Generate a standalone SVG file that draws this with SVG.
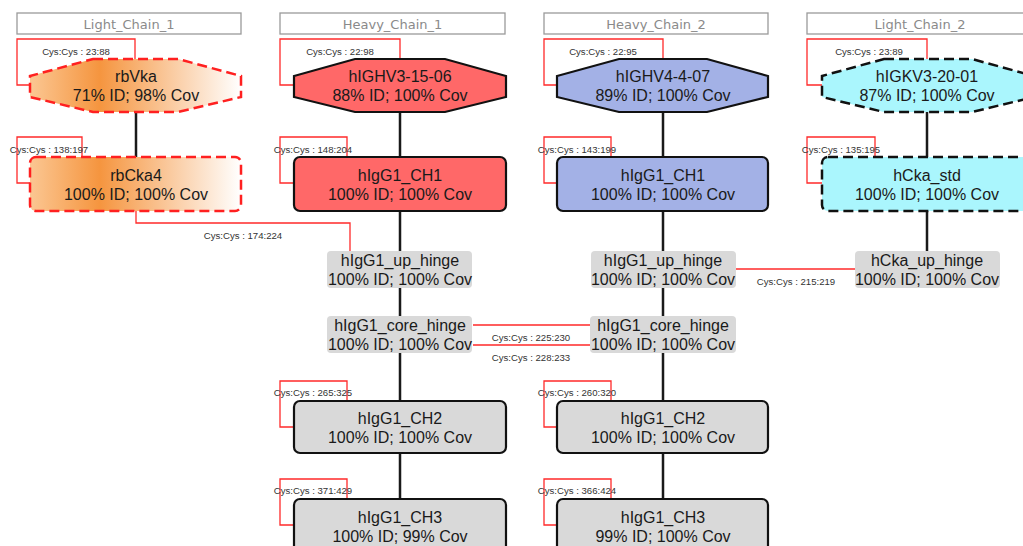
<svg xmlns="http://www.w3.org/2000/svg" width="1023" height="546" viewBox="0 0 1023 546">
<defs>
<linearGradient id="orange" x1="0" y1="0" x2="1" y2="0">
<stop offset="0" stop-color="#fbc793"/>
<stop offset="0.33" stop-color="#f5953f"/>
<stop offset="1" stop-color="#ffffff"/>
</linearGradient>
<style>
.hdr{fill:#fff;stroke:#9a9a9a;stroke-width:1.3}
.hdrt{font-family:"DejaVu Sans",sans-serif;font-size:13px;fill:#8a8a8a;text-anchor:middle}
.t{font-family:"Liberation Sans",Arial,sans-serif;font-size:16px;fill:#1a1a1a;text-anchor:middle}
.c{font-family:"Liberation Sans",Arial,sans-serif;font-size:9.6px;fill:#333;text-anchor:middle}
.lc1{fill:url(#orange);stroke:#ff2020;stroke-width:2.5;stroke-dasharray:10 5}
.hc1{fill:#ff6868;stroke:#111;stroke-width:2.2}
.hc2{fill:#a3b1e6;stroke:#111;stroke-width:2.2}
.lc2{fill:#aaf6fd;stroke:#111;stroke-width:2.5;stroke-dasharray:10 5}
.gr{fill:#d9d9d9;stroke:#111;stroke-width:2.2}
.hg{fill:#d9d9d9;stroke:none}
.bk{stroke:#1a1a1a;stroke-width:2.5;fill:none}
.rd{stroke:#ff2a2a;stroke-width:1.3;fill:none}
</style>
</defs>
<g id="headers">
<rect class="hdr" x="17" y="13" width="224" height="21"/>
<text class="hdrt" x="129" y="29">Light_Chain_1</text>
<rect class="hdr" x="280" y="13" width="225" height="21"/>
<text class="hdrt" x="392.5" y="29">Heavy_Chain_1</text>
<rect class="hdr" x="544" y="13" width="224" height="21"/>
<text class="hdrt" x="656" y="29">Heavy_Chain_2</text>
<rect class="hdr" x="807" y="13" width="226" height="21"/>
<text class="hdrt" x="920" y="29">Light_Chain_2</text>
</g>
<g id="connectors">
<path class="bk" d="M136 112V157"/>
<path class="bk" d="M400 112V157M400 211V251M400 288V316M400 353V401M400 453V499"/>
<path class="bk" d="M663 112V157M663 211V251M663 288V316M663 353V401M663 453V499"/>
<path class="bk" d="M927 112V157M927 211V251"/>
<path class="rd" d="M30 85H17V39H135V59"/>
<path class="rd" d="M30 183H17V137H82V157"/>
<path class="rd" d="M293 85H280V39H400V59"/>
<path class="rd" d="M294 183H280V137H347V157"/>
<path class="rd" d="M557 85H544V39H663V59"/>
<path class="rd" d="M557 183H544V137H611V157"/>
<path class="rd" d="M822 85H807V39H927V59"/>
<path class="rd" d="M822 183H807V137H875V157"/>
<path class="rd" d="M294 427H280V381H347V401"/>
<path class="rd" d="M294 525H280V479H347V499"/>
<path class="rd" d="M557 427H544V381H611V401"/>
<path class="rd" d="M557 525H544V479H611V499"/>
<path class="rd" d="M136 211V223H350V251"/>
<path class="rd" d="M473 325H590M473 345H590"/>
<path class="rd" d="M736 269H855"/>
<text class="c" x="76" y="55">Cys:Cys : 23:88</text>
<text class="c" x="49" y="153">Cys:Cys : 138:197</text>
<text class="c" x="340" y="55">Cys:Cys : 22:98</text>
<text class="c" x="313" y="153">Cys:Cys : 148:204</text>
<text class="c" x="603" y="55">Cys:Cys : 22:95</text>
<text class="c" x="577" y="153">Cys:Cys : 143:199</text>
<text class="c" x="869" y="55">Cys:Cys : 23:89</text>
<text class="c" x="841" y="153">Cys:Cys : 135:195</text>
<text class="c" x="313" y="396">Cys:Cys : 265:325</text>
<text class="c" x="313" y="494">Cys:Cys : 371:429</text>
<text class="c" x="577" y="396">Cys:Cys : 260:320</text>
<text class="c" x="577" y="494">Cys:Cys : 366:424</text>
<text class="c" x="243" y="239">Cys:Cys : 174:224</text>
<text class="c" x="531" y="341">Cys:Cys : 225:230</text>
<text class="c" x="531" y="361">Cys:Cys : 228:233</text>
<text class="c" x="796" y="285">Cys:Cys : 215:219</text>
</g>
<g id="rbVka">
<polygon class="lc1" points="93,59 178,59 241,76 241,97 178,112 93,112 30,97 30,76"/>
<text class="t" x="136" y="82">rbVka</text>
<text class="t" x="136" y="101">71% ID; 98% Cov</text>
</g>
<g id="rbCka4">
<rect class="lc1" x="30" y="157" width="211" height="54" rx="6"/>
<text class="t" x="136" y="181">rbCka4</text>
<text class="t" x="136" y="200">100% ID; 100% Cov</text>
</g>
<g id="hIGHV3-15-06">
<polygon class="hc1" points="355,59 445,59 506,76 506,97 445,112 355,112 294,97 294,76"/>
<text class="t" x="400" y="82">hIGHV3-15-06</text>
<text class="t" x="400" y="101">88% ID; 100% Cov</text>
</g>
<g id="hc1_CH1">
<rect class="hc1" x="294" y="157" width="212" height="54" rx="6"/>
<text class="t" x="400" y="181">hIgG1_CH1</text>
<text class="t" x="400" y="200">100% ID; 100% Cov</text>
</g>
<g id="hc1_up_hinge">
<rect class="hg" x="327" y="251" width="145" height="37" rx="4"/>
<text class="t" x="400" y="266">hIgG1_up_hinge</text>
<text class="t" x="400" y="285">100% ID; 100% Cov</text>
</g>
<g id="hc1_core_hinge">
<rect class="hg" x="327" y="316" width="145" height="37" rx="4"/>
<text class="t" x="400" y="331">hIgG1_core_hinge</text>
<text class="t" x="400" y="350">100% ID; 100% Cov</text>
</g>
<g id="hc1_CH2">
<rect class="gr" x="294" y="401" width="212" height="52" rx="6"/>
<text class="t" x="400" y="424">hIgG1_CH2</text>
<text class="t" x="400" y="443">100% ID; 100% Cov</text>
</g>
<g id="hc1_CH3">
<rect class="gr" x="294" y="499" width="212" height="54" rx="6"/>
<text class="t" x="400" y="523">hIgG1_CH3</text>
<text class="t" x="400" y="542">100% ID; 99% Cov</text>
</g>
<g id="hIGHV4-4-07">
<polygon class="hc2" points="619,59 707,59 768,76 768,97 707,112 619,112 557,97 557,76"/>
<text class="t" x="663" y="82">hIGHV4-4-07</text>
<text class="t" x="663" y="101">89% ID; 100% Cov</text>
</g>
<g id="hc2_CH1">
<rect class="hc2" x="557" y="157" width="211" height="54" rx="6"/>
<text class="t" x="663" y="181">hIgG1_CH1</text>
<text class="t" x="663" y="200">100% ID; 100% Cov</text>
</g>
<g id="hc2_up_hinge">
<rect class="hg" x="591" y="251" width="145" height="37" rx="4"/>
<text class="t" x="663" y="266">hIgG1_up_hinge</text>
<text class="t" x="663" y="285">100% ID; 100% Cov</text>
</g>
<g id="hc2_core_hinge">
<rect class="hg" x="590" y="316" width="146" height="37" rx="4"/>
<text class="t" x="663" y="331">hIgG1_core_hinge</text>
<text class="t" x="663" y="350">100% ID; 100% Cov</text>
</g>
<g id="hc2_CH2">
<rect class="gr" x="557" y="401" width="211" height="52" rx="6"/>
<text class="t" x="663" y="424">hIgG1_CH2</text>
<text class="t" x="663" y="443">100% ID; 100% Cov</text>
</g>
<g id="hc2_CH3">
<rect class="gr" x="557" y="499" width="211" height="54" rx="6"/>
<text class="t" x="663" y="523">hIgG1_CH3</text>
<text class="t" x="663" y="542">99% ID; 100% Cov</text>
</g>
<g id="hIGKV3-20-01">
<polygon class="lc2" points="884,59 972,59 1034,76 1034,97 972,112 884,112 822,97 822,76"/>
<text class="t" x="927" y="82">hIGKV3-20-01</text>
<text class="t" x="927" y="101">87% ID; 100% Cov</text>
</g>
<g id="hCka_std">
<rect class="lc2" x="822" y="157" width="212" height="54" rx="6"/>
<text class="t" x="927" y="181">hCka_std</text>
<text class="t" x="927" y="200">100% ID; 100% Cov</text>
</g>
<g id="hCka_up_hinge">
<rect class="hg" x="855" y="251" width="145" height="37" rx="4"/>
<text class="t" x="927" y="266">hCka_up_hinge</text>
<text class="t" x="927" y="285">100% ID; 100% Cov</text>
</g>
</svg>
